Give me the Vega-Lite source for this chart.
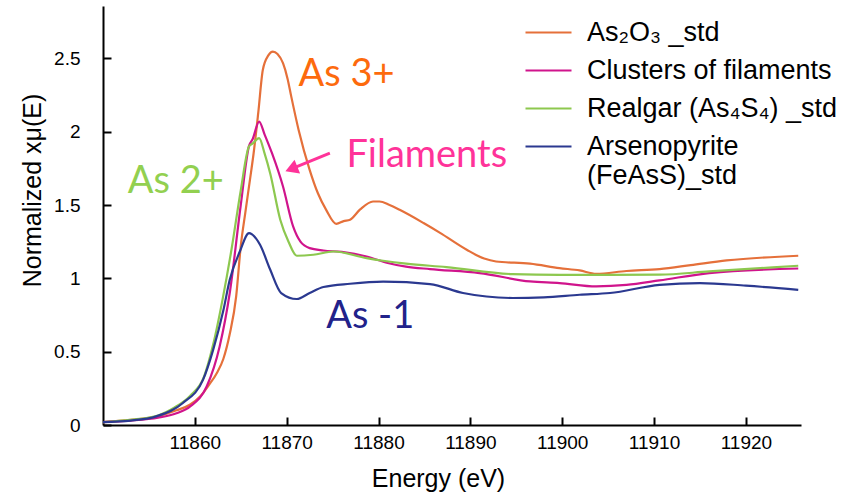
{
  "$schema": "https://vega.github.io/schema/vega-lite/v6.json",
  "width": 698,
  "height": 419,
  "autosize": "none",
  "padding": {"left": 103, "top": 6, "right": 53, "bottom": 70},
  "background": "white",
  "config": {"view": {"stroke": null}, "font": "Liberation Sans"},
  "datasets": {
    "spectra": [
      {"sample": "As₂O₃ _std", "energy": 11850, "mu": 0.02},
      {"sample": "As₂O₃ _std", "energy": 11853, "mu": 0.035},
      {"sample": "As₂O₃ _std", "energy": 11856, "mu": 0.06},
      {"sample": "As₂O₃ _std", "energy": 11858, "mu": 0.1},
      {"sample": "As₂O₃ _std", "energy": 11859.5, "mu": 0.14},
      {"sample": "As₂O₃ _std", "energy": 11860.6, "mu": 0.196},
      {"sample": "As₂O₃ _std", "energy": 11861.5, "mu": 0.27},
      {"sample": "As₂O₃ _std", "energy": 11862.4, "mu": 0.355},
      {"sample": "As₂O₃ _std", "energy": 11863.1, "mu": 0.45},
      {"sample": "As₂O₃ _std", "energy": 11863.8, "mu": 0.62},
      {"sample": "As₂O₃ _std", "energy": 11864.5, "mu": 0.877},
      {"sample": "As₂O₃ _std", "energy": 11865, "mu": 1.22},
      {"sample": "As₂O₃ _std", "energy": 11865.5, "mu": 1.45},
      {"sample": "As₂O₃ _std", "energy": 11866, "mu": 1.672},
      {"sample": "As₂O₃ _std", "energy": 11866.4, "mu": 1.853},
      {"sample": "As₂O₃ _std", "energy": 11866.9, "mu": 2.126},
      {"sample": "As₂O₃ _std", "energy": 11867.4, "mu": 2.421},
      {"sample": "As₂O₃ _std", "energy": 11868, "mu": 2.52},
      {"sample": "As₂O₃ _std", "energy": 11868.5, "mu": 2.546},
      {"sample": "As₂O₃ _std", "energy": 11869, "mu": 2.53},
      {"sample": "As₂O₃ _std", "energy": 11869.6, "mu": 2.467},
      {"sample": "As₂O₃ _std", "energy": 11870.1, "mu": 2.36},
      {"sample": "As₂O₃ _std", "energy": 11870.5, "mu": 2.239},
      {"sample": "As₂O₃ _std", "energy": 11871.3, "mu": 2.012},
      {"sample": "As₂O₃ _std", "energy": 11872.5, "mu": 1.74},
      {"sample": "As₂O₃ _std", "energy": 11873.4, "mu": 1.58},
      {"sample": "As₂O₃ _std", "energy": 11874.3, "mu": 1.467},
      {"sample": "As₂O₃ _std", "energy": 11875.4, "mu": 1.372},
      {"sample": "As₂O₃ _std", "energy": 11876.2, "mu": 1.39},
      {"sample": "As₂O₃ _std", "energy": 11876.9, "mu": 1.4},
      {"sample": "As₂O₃ _std", "energy": 11878, "mu": 1.47},
      {"sample": "As₂O₃ _std", "energy": 11879.4, "mu": 1.524},
      {"sample": "As₂O₃ _std", "energy": 11880.1, "mu": 1.524},
      {"sample": "As₂O₃ _std", "energy": 11881.2, "mu": 1.5},
      {"sample": "As₂O₃ _std", "energy": 11882.3, "mu": 1.467},
      {"sample": "As₂O₃ _std", "energy": 11884.9, "mu": 1.377},
      {"sample": "As₂O₃ _std", "energy": 11886.7, "mu": 1.31},
      {"sample": "As₂O₃ _std", "energy": 11889.6, "mu": 1.195},
      {"sample": "As₂O₃ _std", "energy": 11891.5, "mu": 1.135},
      {"sample": "As₂O₃ _std", "energy": 11892.8, "mu": 1.115},
      {"sample": "As₂O₃ _std", "energy": 11896.5, "mu": 1.1},
      {"sample": "As₂O₃ _std", "energy": 11899.7, "mu": 1.07},
      {"sample": "As₂O₃ _std", "energy": 11901.9, "mu": 1.054},
      {"sample": "As₂O₃ _std", "energy": 11903.7, "mu": 1.031},
      {"sample": "As₂O₃ _std", "energy": 11907, "mu": 1.05},
      {"sample": "As₂O₃ _std", "energy": 11910.6, "mu": 1.063},
      {"sample": "As₂O₃ _std", "energy": 11914, "mu": 1.09},
      {"sample": "As₂O₃ _std", "energy": 11917.9, "mu": 1.122},
      {"sample": "As₂O₃ _std", "energy": 11925.7, "mu": 1.154},

      {"sample": "Clusters of filaments", "energy": 11850, "mu": 0.02},
      {"sample": "Clusters of filaments", "energy": 11853, "mu": 0.03},
      {"sample": "Clusters of filaments", "energy": 11856, "mu": 0.05},
      {"sample": "Clusters of filaments", "energy": 11858, "mu": 0.08},
      {"sample": "Clusters of filaments", "energy": 11859.5, "mu": 0.127},
      {"sample": "Clusters of filaments", "energy": 11861.3, "mu": 0.264},
      {"sample": "Clusters of filaments", "energy": 11862.7, "mu": 0.536},
      {"sample": "Clusters of filaments", "energy": 11863.8, "mu": 0.9},
      {"sample": "Clusters of filaments", "energy": 11865, "mu": 1.5},
      {"sample": "Clusters of filaments", "energy": 11865.9, "mu": 1.903},
      {"sample": "Clusters of filaments", "energy": 11866.3, "mu": 1.95},
      {"sample": "Clusters of filaments", "energy": 11867, "mu": 2.069},
      {"sample": "Clusters of filaments", "energy": 11867.6, "mu": 1.98},
      {"sample": "Clusters of filaments", "energy": 11868.4, "mu": 1.853},
      {"sample": "Clusters of filaments", "energy": 11869.6, "mu": 1.626},
      {"sample": "Clusters of filaments", "energy": 11870.7, "mu": 1.354},
      {"sample": "Clusters of filaments", "energy": 11871.5, "mu": 1.25},
      {"sample": "Clusters of filaments", "energy": 11872.5, "mu": 1.206},
      {"sample": "Clusters of filaments", "energy": 11874, "mu": 1.19},
      {"sample": "Clusters of filaments", "energy": 11876, "mu": 1.18},
      {"sample": "Clusters of filaments", "energy": 11878.7, "mu": 1.149},
      {"sample": "Clusters of filaments", "energy": 11881, "mu": 1.105},
      {"sample": "Clusters of filaments", "energy": 11883, "mu": 1.08},
      {"sample": "Clusters of filaments", "energy": 11885.6, "mu": 1.063},
      {"sample": "Clusters of filaments", "energy": 11891, "mu": 1.036},
      {"sample": "Clusters of filaments", "energy": 11896.5, "mu": 0.979},
      {"sample": "Clusters of filaments", "energy": 11899.7, "mu": 0.968},
      {"sample": "Clusters of filaments", "energy": 11903.7, "mu": 0.945},
      {"sample": "Clusters of filaments", "energy": 11907, "mu": 0.955},
      {"sample": "Clusters of filaments", "energy": 11910.6, "mu": 0.986},
      {"sample": "Clusters of filaments", "energy": 11916, "mu": 1.036},
      {"sample": "Clusters of filaments", "energy": 11925.7, "mu": 1.067},

      {"sample": "Realgar (As₄S₄) _std", "energy": 11850, "mu": 0.02},
      {"sample": "Realgar (As₄S₄) _std", "energy": 11853, "mu": 0.035},
      {"sample": "Realgar (As₄S₄) _std", "energy": 11856, "mu": 0.065},
      {"sample": "Realgar (As₄S₄) _std", "energy": 11857.7, "mu": 0.116},
      {"sample": "Realgar (As₄S₄) _std", "energy": 11859.5, "mu": 0.2},
      {"sample": "Realgar (As₄S₄) _std", "energy": 11861, "mu": 0.33},
      {"sample": "Realgar (As₄S₄) _std", "energy": 11862, "mu": 0.55},
      {"sample": "Realgar (As₄S₄) _std", "energy": 11863, "mu": 0.85},
      {"sample": "Realgar (As₄S₄) _std", "energy": 11864, "mu": 1.2},
      {"sample": "Realgar (As₄S₄) _std", "energy": 11865, "mu": 1.6},
      {"sample": "Realgar (As₄S₄) _std", "energy": 11865.9, "mu": 1.9},
      {"sample": "Realgar (As₄S₄) _std", "energy": 11866.3, "mu": 1.92},
      {"sample": "Realgar (As₄S₄) _std", "energy": 11867, "mu": 1.956},
      {"sample": "Realgar (As₄S₄) _std", "energy": 11867.6, "mu": 1.85},
      {"sample": "Realgar (As₄S₄) _std", "energy": 11868.2, "mu": 1.717},
      {"sample": "Realgar (As₄S₄) _std", "energy": 11869.3, "mu": 1.4},
      {"sample": "Realgar (As₄S₄) _std", "energy": 11870.2, "mu": 1.25},
      {"sample": "Realgar (As₄S₄) _std", "energy": 11871.1, "mu": 1.154},
      {"sample": "Realgar (As₄S₄) _std", "energy": 11872.9, "mu": 1.161},
      {"sample": "Realgar (As₄S₄) _std", "energy": 11875.1, "mu": 1.183},
      {"sample": "Realgar (As₄S₄) _std", "energy": 11878.7, "mu": 1.138},
      {"sample": "Realgar (As₄S₄) _std", "energy": 11880.5, "mu": 1.12},
      {"sample": "Realgar (As₄S₄) _std", "energy": 11883, "mu": 1.1},
      {"sample": "Realgar (As₄S₄) _std", "energy": 11887.4, "mu": 1.077},
      {"sample": "Realgar (As₄S₄) _std", "energy": 11894.6, "mu": 1.029},
      {"sample": "Realgar (As₄S₄) _std", "energy": 11899.7, "mu": 1.024},
      {"sample": "Realgar (As₄S₄) _std", "energy": 11905, "mu": 1.024},
      {"sample": "Realgar (As₄S₄) _std", "energy": 11910.6, "mu": 1.025},
      {"sample": "Realgar (As₄S₄) _std", "energy": 11916, "mu": 1.047},
      {"sample": "Realgar (As₄S₄) _std", "energy": 11925.7, "mu": 1.086},

      {"sample": "Arsenopyrite (FeAsS)_std", "energy": 11850, "mu": 0.02},
      {"sample": "Arsenopyrite (FeAsS)_std", "energy": 11853, "mu": 0.03},
      {"sample": "Arsenopyrite (FeAsS)_std", "energy": 11855.8, "mu": 0.059},
      {"sample": "Arsenopyrite (FeAsS)_std", "energy": 11858.7, "mu": 0.15},
      {"sample": "Arsenopyrite (FeAsS)_std", "energy": 11860.9, "mu": 0.309},
      {"sample": "Arsenopyrite (FeAsS)_std", "energy": 11862, "mu": 0.514},
      {"sample": "Arsenopyrite (FeAsS)_std", "energy": 11863.1, "mu": 0.78},
      {"sample": "Arsenopyrite (FeAsS)_std", "energy": 11863.8, "mu": 0.99},
      {"sample": "Arsenopyrite (FeAsS)_std", "energy": 11864.9, "mu": 1.183},
      {"sample": "Arsenopyrite (FeAsS)_std", "energy": 11865.9, "mu": 1.309},
      {"sample": "Arsenopyrite (FeAsS)_std", "energy": 11867.1, "mu": 1.229},
      {"sample": "Arsenopyrite (FeAsS)_std", "energy": 11868.2, "mu": 1.06},
      {"sample": "Arsenopyrite (FeAsS)_std", "energy": 11869.4, "mu": 0.9},
      {"sample": "Arsenopyrite (FeAsS)_std", "energy": 11871.1, "mu": 0.859},
      {"sample": "Arsenopyrite (FeAsS)_std", "energy": 11872.5, "mu": 0.9},
      {"sample": "Arsenopyrite (FeAsS)_std", "energy": 11874, "mu": 0.941},
      {"sample": "Arsenopyrite (FeAsS)_std", "energy": 11876.9, "mu": 0.963},
      {"sample": "Arsenopyrite (FeAsS)_std", "energy": 11880.5, "mu": 0.977},
      {"sample": "Arsenopyrite (FeAsS)_std", "energy": 11885.6, "mu": 0.961},
      {"sample": "Arsenopyrite (FeAsS)_std", "energy": 11889.2, "mu": 0.9},
      {"sample": "Arsenopyrite (FeAsS)_std", "energy": 11894.6, "mu": 0.866},
      {"sample": "Arsenopyrite (FeAsS)_std", "energy": 11898, "mu": 0.87},
      {"sample": "Arsenopyrite (FeAsS)_std", "energy": 11901.9, "mu": 0.888},
      {"sample": "Arsenopyrite (FeAsS)_std", "energy": 11905.2, "mu": 0.9},
      {"sample": "Arsenopyrite (FeAsS)_std", "energy": 11910.6, "mu": 0.956},
      {"sample": "Arsenopyrite (FeAsS)_std", "energy": 11915, "mu": 0.968},
      {"sample": "Arsenopyrite (FeAsS)_std", "energy": 11920, "mu": 0.95},
      {"sample": "Arsenopyrite (FeAsS)_std", "energy": 11925.7, "mu": 0.922}
    ],
    "notes": [
      {"label": "As 3+", "energy": 11871.3, "mu": 2.312},
      {"label": "As 2+", "energy": 11852.7, "mu": 1.581},
      {"label": "Filaments", "energy": 11876.5, "mu": 1.762},
      {"label": "As -1", "energy": 11874.3, "mu": 0.661}
    ],
    "arrow": [
      {"energy": 11874.7, "mu": 1.854, "energy2": 11870.51, "mu2": 1.746}
    ]
  },
  "layer": [
    {
      "data": {"name": "spectra"},
      "mark": {"type": "line", "strokeWidth": 2.2, "interpolate": "monotone"},
      "encoding": {
        "x": {
          "field": "energy", "type": "quantitative",
          "scale": {"domain": [11850, 11926], "nice": false, "zero": false},
          "axis": {
            "values": [11860, 11870, 11880, 11890, 11900, 11910, 11920],
            "format": "d",
            "grid": false,
            "domainColor": "black", "domainWidth": 2,
            "tickColor": "black", "tickWidth": 2, "tickSize": -8,
            "labelFontSize": 19, "labelColor": "black", "labelPadding": 16,
            "labelFont": "Liberation Sans",
            "title": "Energy (eV)",
            "titleFont": "Liberation Sans", "titleFontSize": 25, "titleFontWeight": "normal",
            "titleColor": "black", "titleX": 335, "titleY": 61, "titleBaseline": "alphabetic"
          }
        },
        "y": {
          "field": "mu", "type": "quantitative",
          "scale": {"domain": [0, 2.857], "nice": false},
          "axis": {
            "values": [0, 0.5, 1, 1.5, 2, 2.5],
            "format": "~g",
            "grid": false,
            "domainColor": "black", "domainWidth": 2,
            "tickColor": "black", "tickWidth": 2, "tickSize": -8,
            "labelFontSize": 19, "labelColor": "black", "labelPadding": 31,
            "labelFont": "Liberation Sans",
            "title": "Normalized xμ(E)",
            "titleFont": "Liberation Sans", "titleFontSize": 25, "titleFontWeight": "normal",
            "titleColor": "black", "titleX": -63, "titleY": 184, "titleBaseline": "alphabetic"
          }
        },
        "color": {
          "field": "sample", "type": "nominal",
          "scale": {
            "domain": ["As₂O₃ _std", "Clusters of filaments", "Realgar (As₄S₄) _std", "Arsenopyrite (FeAsS)_std"],
            "range": ["#e5703a", "#d0148c", "#8dc84f", "#2b3990"]
          },
          "legend": {
            "orient": "none", "legendX": 421, "legendY": 2,
            "title": null, "padding": 0,
            "symbolType": "stroke", "symbolSize": 2116, "symbolStrokeWidth": 2.2,
            "labelFontSize": 27, "labelFont": "Liberation Sans", "labelColor": "black",
            "labelOffset": 14, "rowPadding": -4.2, "labelLimit": 400,
            "labelExpr": "datum.label == 'Arsenopyrite (FeAsS)_std' ? ['Arsenopyrite', '(FeAsS)_std'] : datum.label"
          }
        }
      }
    },
    {
      "data": {"name": "notes"},
      "mark": {"type": "text", "font": "Lato", "fontSize": 38, "align": "left", "baseline": "alphabetic"},
      "encoding": {
        "x": {"field": "energy", "type": "quantitative"},
        "y": {"field": "mu", "type": "quantitative"},
        "text": {"field": "label"},
        "color": {
          "field": "label", "type": "nominal",
          "scale": {"domain": ["As 3+", "As 2+", "Filaments", "As -1"], "range": ["#fd6a0d", "#92d050", "#ff3399", "#22228a"]},
          "legend": null
        }
      }
    },
    {
      "data": {"name": "arrow"},
      "mark": {"type": "rule", "color": "#ff3399", "strokeWidth": 3},
      "encoding": {
        "x": {"field": "energy", "type": "quantitative"},
        "y": {"field": "mu", "type": "quantitative"},
        "x2": {"field": "energy2"},
        "y2": {"field": "mu2"}
      }
    },
    {
      "data": {"name": "arrow"},
      "mark": {"type": "point", "shape": "triangle-right", "filled": true, "color": "#ff3399", "size": 220, "angle": 158, "opacity": 1},
      "encoding": {
        "x": {"field": "energy2", "type": "quantitative"},
        "y": {"field": "mu2", "type": "quantitative"}
      }
    }
  ],
  "resolve": {"scale": {"color": "independent"}}
}
